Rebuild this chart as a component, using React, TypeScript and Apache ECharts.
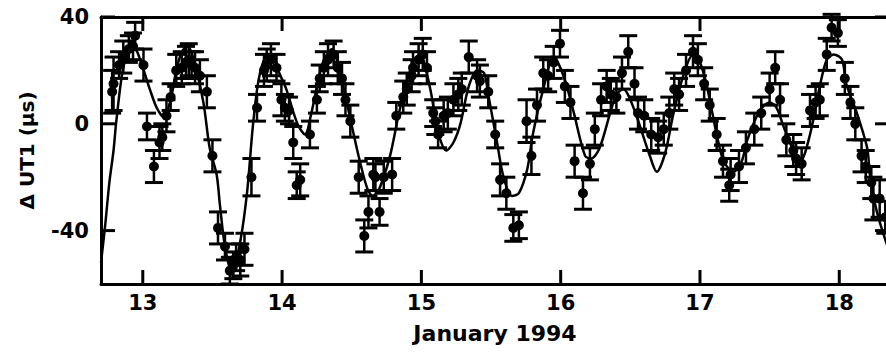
import React, { useEffect, useRef } from "react";
import * as echarts from "echarts";

// Observations: day of January 1994, ΔUT1 (μs), 1σ error (μs)
const obsDays = [
  12.78, 12.79, 12.83, 12.86, 12.9, 12.93, 12.945, 13.005, 13.03, 13.08,
  13.12, 13.14, 13.17, 13.2, 13.24, 13.28, 13.31, 13.33, 13.35, 13.375,
  13.41, 13.46, 13.5, 13.54, 13.59, 13.625, 13.65, 13.67, 13.7, 13.73,
  13.78, 13.82, 13.87, 13.89, 13.92, 13.96, 13.995, 14.02, 14.05, 14.08,
  14.105, 14.13, 14.2, 14.25, 14.27, 14.3, 14.33, 14.37, 14.4, 14.43,
  14.455, 14.49, 14.55, 14.59, 14.62, 14.655, 14.67, 14.7, 14.73, 14.79,
  14.82, 14.87, 14.895, 14.93, 14.94, 14.98, 15.01, 15.04, 15.085, 15.1,
  15.12, 15.16, 15.19, 15.23, 15.265, 15.29, 15.34, 15.4, 15.42, 15.48,
  15.53, 15.565, 15.61, 15.66, 15.7, 15.755, 15.79, 15.83, 15.875, 15.91,
  15.95, 15.995, 16.03, 16.07, 16.1, 16.16, 16.21, 16.245, 16.29, 16.33,
  16.36, 16.4, 16.44, 16.485, 16.53, 16.555, 16.6, 16.65, 16.7, 16.74,
  16.78, 16.815, 16.85, 16.9, 16.95, 16.985, 17.03, 17.07, 17.12, 17.165,
  17.21, 17.22, 17.28, 17.33, 17.39, 17.44, 17.5, 17.54, 17.575, 17.62,
  17.67, 17.69, 17.73, 17.79, 17.83, 17.86, 17.91, 17.945, 17.99, 18.04,
  18.08, 18.115, 18.16, 18.19, 18.23, 18.245, 18.29, 18.33,
];
const obsValues = [
  12, 15, 22, 25, 28, 29, 33, 22, -1, -16,
  -7, -5, 3, 10, 20, 21, 23, 24, 22, 21,
  18, 12, -12, -39, -46, -55, -53, -50, -51, -47,
  -20, 6, 20, 22, 24, 21, 9, 6, 5, -7,
  -23, -21, -4, 9, 17, 21, 24, 26, 21, 17,
  9, 1, -20, -42, -33, -19, -20, -33, -20, -19,
  3, 10, 13, 18, 21, 24, 26, 21, 4, 1,
  -4, 3, 4, 9, 11, 13, 25, 18, 16, 12,
  -4, -21, -26, -39, -38, 1, -12, 7, 19, 18,
  23, 30, 14, 8, -14, -26, -15, -2, 9, 14,
  11, 10, 19, 27, 15, 4, 3, -4, -5, -2,
  4, 13, 11, 20, 27, 24, 15, 7, -4, -14,
  -23, -19, -16, -9, -2, 4, 13, 21, 9, -6,
  -10, -13, -15, 5, 8, 9, 26, 36, 34, 17,
  8, 0, -12, -16, -22, -28, -28, -35,
];
const obsErrors = [
  8, 10, 5, 6, 5, 5, 5, 6, 5, 6,
  6, 5, 6, 5, 6, 6, 6, 6, 5, 6,
  6, 6, 6, 6, 5, 5, 5, 5, 6, 6,
  7, 5, 6, 6, 6, 5, 6, 5, 5, 6,
  5, 6, 5, 5, 5, 6, 6, 5, 6, 6,
  6, 6, 6, 6, 6, 6, 5, 5, 6, 6,
  5, 6, 6, 6, 6, 6, 6, 6, 5, 5,
  5, 6, 6, 6, 6, 6, 6, 6, 6, 6,
  5, 6, 6, 5, 5, 8, 7, 6, 6, 6,
  6, 5, 6, 6, 6, 6, 6, 6, 6, 6,
  6, 6, 6, 6, 6, 6, 6, 6, 6, 6,
  6, 6, 6, 6, 6, 6, 6, 6, 6, 6,
  6, 6, 6, 6, 6, 6, 6, 6, 6, 6,
  6, 6, 6, 6, 6, 6, 6, 5, 5, 6,
  6, 6, 6, 6, 6, 8, 7, 6,
];

// Model curve
const modelDays = [
  12.7, 12.73, 12.76, 12.79, 12.81, 12.86, 12.92, 12.96, 13.05, 13.1,
  13.15, 13.2, 13.24, 13.28, 13.32, 13.36, 13.435, 13.48, 13.53, 13.555,
  13.59, 13.64, 13.7, 13.75, 13.79, 13.83, 13.88, 13.93, 13.98, 14.03,
  14.11, 14.165, 14.21, 14.25, 14.3, 14.36, 14.41, 14.46, 14.54, 14.61,
  14.65, 14.7, 14.775, 14.835, 14.895, 14.95, 14.99, 15.06, 15.12, 15.18,
  15.23, 15.28, 15.34, 15.4, 15.45, 15.48, 15.54, 15.59, 15.65, 15.7,
  15.76, 15.8, 15.875, 15.95, 16.02, 16.09, 16.175, 16.22, 16.28, 16.355,
  16.4, 16.45, 16.5, 16.57, 16.64, 16.69, 16.75, 16.81, 16.88, 16.95,
  17.0, 17.05, 17.12, 17.17, 17.24, 17.3, 17.34, 17.43, 17.5, 17.55,
  17.6, 17.67, 17.72, 17.79, 17.86, 17.91, 17.96, 18.02, 18.05, 18.12,
  18.2, 18.22, 18.27, 18.36,
];
const modelValues = [
  -52, -38, -22, -10, 1, 21, 29, 27, 13, 6,
  2.5, 9, 20, 27, 29, 25, 8, -9, -19, -31,
  -46, -56, -44, -25, -1, 16, 25, 26, 19, 13,
  0, -4, 4, 14, 24, 28, 20, 9, -10, -24,
  -27, -24, -12, 3, 16, 24, 26, 14, -3, -10,
  -7, 0, 14, 20, 19, 11, -6, -20, -27, -26,
  -17, -4, 13, 25, 18, 5, -12, -13, -9, 4,
  11, 13, 9, -1, -12, -18, -11, 4, 18, 26,
  23, 14, -4, -14, -18, -14, -6, 5, 8, 6,
  -1, -10, -14, -4, 14, 24, 26, 24, 15, 5,
  -9, -19, -33, -48,
];

const dayTicks = [13, 14, 15, 16, 17, 18];
const valueTicks = [-40, 0, 40];

const X_MIN = 12.7;
const X_MAX = 18.357;
const Y_MIN = -60;
const Y_MAX = 40;

export default function App() {
  const ref = useRef<HTMLDivElement>(null);
  useEffect(() => {
    if (!ref.current) return;
    const chart = echarts.init(ref.current, null, { renderer: "svg" });
    const font = "DejaVu Sans";
    const points = obsDays.map((d, i) => [d, obsValues[i], obsErrors[i]]);
    const model = modelDays.map((d, i) => [d, modelValues[i]]);
    const axisLine = { show: true, onZero: false, lineStyle: { color: "#000", width: 3 } };
    const labelStyle = {
      color: "#000",
      fontFamily: font,
      fontWeight: "bold" as const,
      fontSize: 21,
    };
    const TICK = 14;
    const tickStroke = { stroke: "#000", lineWidth: 3 };
    chart.setOption({
      animation: false,
      backgroundColor: "#fff",
      grid: { left: 101, right: 3, top: 17, bottom: 69, containLabel: false },
      xAxis: [
        {
          type: "value",
          position: "bottom",
          min: X_MIN,
          max: X_MAX,
          axisLine,
          axisTick: { show: false },
          axisLabel: { ...labelStyle, customValues: dayTicks, margin: 8 },
          splitLine: { show: false },
          name: "January 1994",
          nameLocation: "middle",
          nameGap: 38,
          nameTextStyle: { ...labelStyle, fontSize: 22 },
        },
        {
          type: "value",
          position: "top",
          min: X_MIN,
          max: X_MAX,
          axisLine,
          axisTick: { show: false },
          axisLabel: { show: false },
          splitLine: { show: false },
        },
      ],
      yAxis: [
        {
          type: "value",
          position: "left",
          min: Y_MIN,
          max: Y_MAX,
          axisLine,
          axisTick: { show: false },
          axisLabel: { ...labelStyle, customValues: valueTicks, margin: 12 },
          splitLine: { show: false },
          name: "Δ UT1 (μs)",
          nameLocation: "middle",
          nameGap: 64,
          nameTextStyle: { ...labelStyle, fontSize: 20 },
        },
        {
          type: "value",
          position: "right",
          min: Y_MIN,
          max: Y_MAX,
          axisLine,
          axisTick: { show: false },
          axisLabel: { show: false },
          splitLine: { show: false },
        },
      ],
      series: [
        {
          type: "line",
          data: model,
          showSymbol: false,
          symbol: "none",
          smooth: 0.3,
          lineStyle: { color: "#000", width: 2.5 },
          z: 2,
        },
        {
          type: "custom",
          data: points,
          encode: { x: 0, y: 1 },
          z: 3,
          renderItem: (_params: any, api: any) => {
            const x = api.value(0);
            const y = api.value(1);
            const e = api.value(2);
            const top = api.coord([x, y + e]);
            const bot = api.coord([x, y - e]);
            const hw = 9;
            const capStyle = { stroke: "#000", lineWidth: 3 };
            return {
              type: "group",
              children: [
                {
                  type: "line",
                  shape: { x1: top[0], y1: top[1], x2: bot[0], y2: bot[1] },
                  style: { stroke: "#000", lineWidth: 2.5 },
                },
                {
                  type: "line",
                  shape: { x1: top[0] - hw, y1: top[1], x2: top[0] + hw, y2: top[1] },
                  style: capStyle,
                },
                {
                  type: "line",
                  shape: { x1: bot[0] - hw, y1: bot[1], x2: bot[0] + hw, y2: bot[1] },
                  style: capStyle,
                },
              ],
            };
          },
        },
        {
          type: "scatter",
          data: points,
          symbol: "circle",
          symbolSize: 10,
          itemStyle: { color: "#000", opacity: 1 },
          z: 4,
        },
        // inward ticks on the bottom and top axes
        {
          type: "custom",
          data: dayTicks.map((d) => [d, Y_MIN]),
          encode: { x: 0, y: 1 },
          silent: true,
          z: 5,
          renderItem: (_params: any, api: any) => {
            const v = api.value(0);
            const b = api.coord([v, Y_MIN]);
            const t = api.coord([v, Y_MAX]);
            return {
              type: "group",
              children: [
                { type: "line", shape: { x1: b[0], y1: b[1], x2: b[0], y2: b[1] - TICK }, style: tickStroke },
                { type: "line", shape: { x1: t[0], y1: t[1], x2: t[0], y2: t[1] + TICK }, style: tickStroke },
              ],
            };
          },
        },
        // inward ticks on the left and right axes
        {
          type: "custom",
          data: valueTicks.map((v) => [X_MIN, v]),
          encode: { x: 0, y: 1 },
          silent: true,
          z: 5,
          renderItem: (_params: any, api: any) => {
            const v = api.value(1);
            const l = api.coord([X_MIN, v]);
            const r = api.coord([X_MAX, v]);
            return {
              type: "group",
              children: [
                { type: "line", shape: { x1: l[0], y1: l[1], x2: l[0] + TICK, y2: l[1] }, style: tickStroke },
                { type: "line", shape: { x1: r[0], y1: r[1], x2: r[0] - TICK, y2: r[1] }, style: tickStroke },
              ],
            };
          },
        },
      ],
    });
    return () => chart.dispose();
  }, []);
  return (
    <div
      style={{
        position: "fixed",
        left: 0,
        top: 0,
        width: 886,
        height: 353,
        overflow: "hidden",
        background: "#fff",
      }}
    >
      <div ref={ref} style={{ width: 892, height: 353 }} />
    </div>
  );
}
